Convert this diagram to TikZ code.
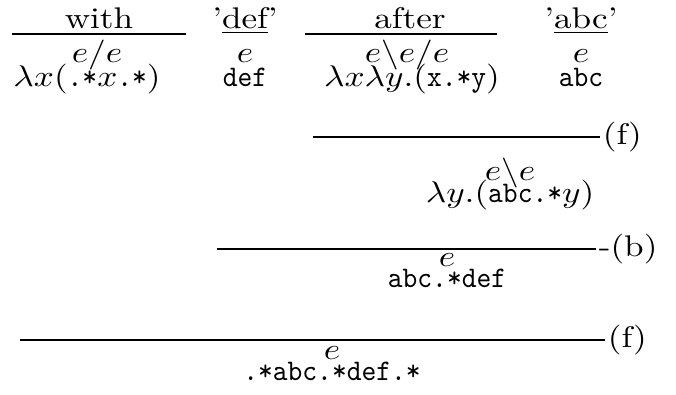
\documentclass[tikz,border=0pt]{standalone}
\usepackage{amsmath,amssymb}
\usepackage{tikz}
\usetikzlibrary{calc}

% text is set a little flat, typewriter a little narrow
\newcommand{\sq}[1]{\scalebox{1}[0.85]{#1}}
\newcommand{\tx}[1]{\scalebox{0.8}[1]{\texttt{#1}}}
% e written over a piece of a tt string
\newcommand{\eover}[1]{\ooalign{\tx{#1}\cr\hidewidth\raisebox{6.7pt}{$e$}\hidewidth\cr}}

\begin{document}
\begin{tikzpicture}[x=0.01cm, y=-0.01cm,
  tx/.style={anchor=base, inner sep=0pt},
  rl/.style={semithick},
  rn/.style={anchor=west, inner sep=0.5pt}]
  \useasboundingbox (0,0) rectangle (676,394);
  % ---- lexical entries ----
  \node[tx] (with) at (99,28) {\sq{with}};
  \node[tx] (def) at (245,28) {\sq{'\underline{def}'}};
  \node[tx] (after) at (410,28) {\sq{after}};
  \node[tx] (abc) at (581,28) {\sq{'\underline{abc}'}};
  \coordinate (w1) at (12,34);   \coordinate (w2) at (186,34);
  \coordinate (a1) at (305,34);  \coordinate (a2) at (497,34);
  \draw[rl] (w1) -- (w2);
  \draw[rl] (a1) -- (a2);
  \node[tx] (withcat) at (97,62) {\sq{$e/e$}};
  \node[tx] (withsem) at (87,86) {\sq{$\lambda x(\tx{.*}x\tx{.*})$}};
  \node[tx] (defcat) at (245,62) {\sq{$e$}};
  \node[tx] (defsem) at (245,86) {\sq{\tx{def}}};
  \node[tx] (aftercat) at (407,62) {\sq{$e\backslash e/e$}};
  \node[tx] (aftersem) at (412,86) {\sq{$\lambda x\lambda y.(\tx{x.*y})$}};
  \node[tx] (abccat) at (581,62) {\sq{$e$}};
  \node[tx] (abcsem) at (581,86) {\sq{\tx{abc}}};
  % ---- after 'abc' ----
  \coordinate (f1a) at (313,137); \coordinate (f1b) at (600,137);
  \draw[rl] (f1a) -- (f1b) node[rn] (f1) {\sq{(f)}};
  \node[tx] (vpcat) at (510,180) {\sq{$e\backslash e$}};
  \node[tx] (vpsem) at (510,202) {\sq{$\lambda y.(\tx{abc.*}y)$}};
  % ---- 'def' after 'abc' ----
  \coordinate (b1a) at (217,249); \coordinate (b1b) at (596,249);
  \draw[rl] (b1a) -- (b1b) node[rn] (b1) {\sq{-(b)}};
  \node[tx] (scsem) at (447,287) {\sq{\tx{abc}\eover{.*}\tx{def}}};
  % ---- with ----
  \coordinate (f2a) at (20,340); \coordinate (f2b) at (605,340);
  \draw[rl] (f2a) -- (f2b) node[rn] (f2) {\sq{(f)}};
  \node[tx] (topsem) at (332,380) {\sq{\tx{.*abc}\eover{.*}\tx{def.*}}};
\end{tikzpicture}
\end{document}
